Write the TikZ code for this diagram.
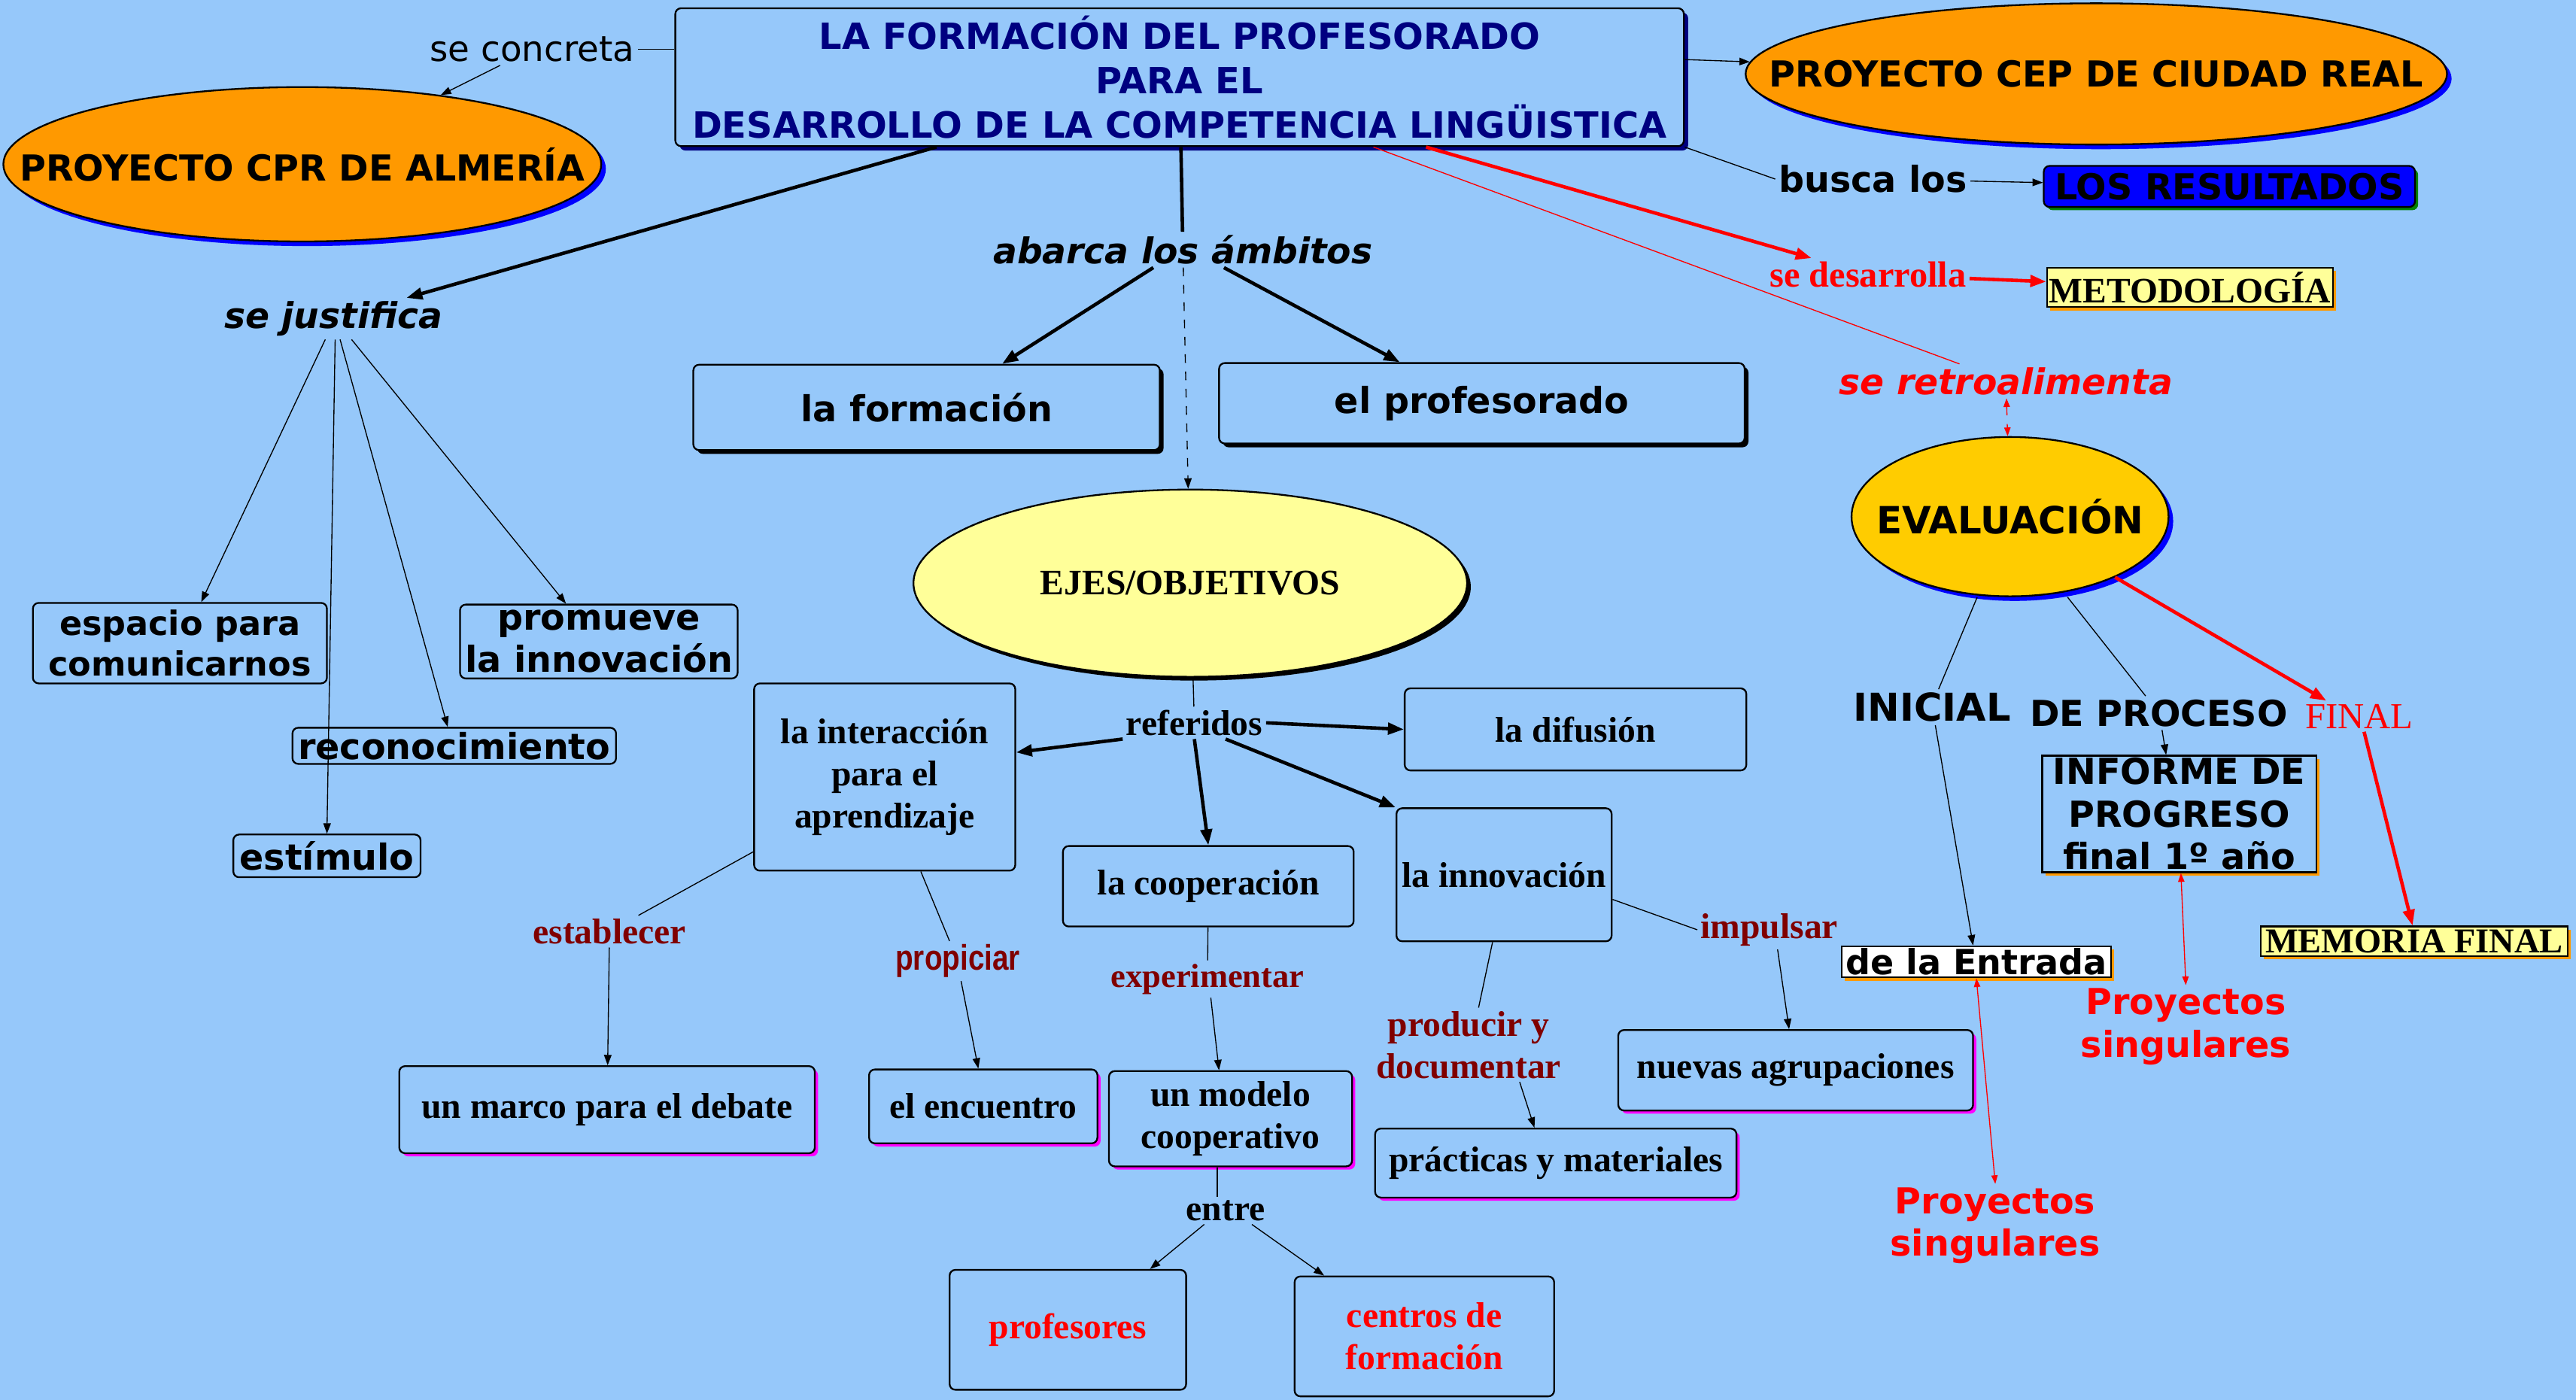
\documentclass[tikz,border=0pt]{standalone}
\usepackage{fontspec}
\setmainfont{Liberation Serif}
\newfontfamily\vsans{DejaVu Sans}
\newfontfamily\nsans{Liberation Sans}[FakeStretch=0.82]
\usetikzlibrary{positioning, arrows.meta, shapes.geometric, calc, shadows}

\definecolor{fondo}{RGB}{150,200,250}
\definecolor{marino}{RGB}{0,0,128}
\definecolor{naranja}{RGB}{255,153,0}
\definecolor{oro}{RGB}{255,204,0}
\definecolor{crema}{RGB}{255,255,153}
\definecolor{granate}{RGB}{128,0,0}
\definecolor{rojo}{RGB}{255,0,0}
\definecolor{azul}{RGB}{0,0,255}
\definecolor{verde}{RGB}{0,128,0}
\definecolor{rosa}{RGB}{255,0,255}

\begin{document}
\begin{tikzpicture}[x=0.02cm, y=-0.02cm,
  % ---- Style definitions ----
  sans/.style={font=\vsans\bfseries\fontsize{12.4}{14.6}\selectfont},
  sansit/.style={font=\vsans\bfseries\itshape\fontsize{12.3}{14.6}\selectfont},
  serif/.style={font=\bfseries\fontsize{12.4}{14.6}\selectfont},
  lbl/.style={inner sep=1pt, align=center},
  box/.style={draw, rounded corners=2pt, fill=fondo, line width=0.6pt,
    inner sep=0pt, align=center},
  sbox/.style={box, sans},
  tbox/.style={box, serif},
  ell/.style={ellipse, draw, line width=0.6pt, inner sep=0pt},
  negrosh/.style={drop shadow={shadow xshift=1.3pt, shadow yshift=-1.3pt, fill=black, opacity=1}},
  rosash/.style={drop shadow={shadow xshift=1.1pt, shadow yshift=-1.1pt, fill=rosa, opacity=1}},
  naranjash/.style={drop shadow={shadow xshift=1.1pt, shadow yshift=-1.1pt, fill=naranja, opacity=1}},
  azulsh/.style={drop shadow={shadow xshift=1.6pt, shadow yshift=-1.6pt, fill=azul, opacity=1}},
  fino/.style={line width=0.35pt},
  fle/.style={fino, -{Triangle[length=3.6pt, width=2.6pt]}},
  grueso/.style={line width=1.2pt},
  gfle/.style={grueso, -{Triangle[length=5.5pt, width=4pt]}},
  rojogrueso/.style={gfle, draw=rojo},
  rojofino/.style={fino, draw=rojo},
  rojodoble/.style={fino, draw=rojo, {Triangle[length=3pt, width=2.2pt]}-{Triangle[length=3pt, width=2.2pt]}},
]

\useasboundingbox (0,0) rectangle (1568,852);
\fill[fondo] (0,0) rectangle (1568,852);

% ---- Top: title and projects ----
\node[box, minimum width=12.28cm, minimum height=1.68cm, text=marino,
      font=\vsans\bfseries\fontsize{12.5}{15.3}\selectfont,
      drop shadow={shadow xshift=1.5pt, shadow yshift=-1.5pt, fill=marino, opacity=1}]
      (title) at (718,47) {LA FORMACIÓN DEL PROFESORADO\\PARA EL\\DESARROLLO DE LA COMPETENCIA LINGÜISTICA};

\node[ell, fill=naranja, minimum width=7.28cm, minimum height=1.88cm, azulsh,
      label={[sans]center:PROYECTO CPR DE ALMERÍA}] (cpr) at (184,100) {};
\node[ell, fill=naranja, minimum width=8.54cm, minimum height=1.72cm, azulsh,
      label={[sans]center:PROYECTO CEP DE CIUDAD REAL}] (cep) at (1276,45) {};

\node[lbl, font=\vsans\fontsize{12.2}{14}\selectfont] (conc) at (324,30) {se concreta};
\node[lbl, sans] (busca) at (1140,109) {busca los};
\node[sbox, fill=azul, minimum width=4.52cm, minimum height=0.5cm,
      drop shadow={shadow xshift=1.1pt, shadow yshift=-1.1pt, fill=verde, opacity=1}]
      (res) at (1357,113.5) {LOS RESULTADOS};
\node[lbl, text=rojo, font=\bfseries\fontsize{12.6}{15}\selectfont] (desa) at (1137,167) {se desarrolla};
\node[tbox, fill=crema, rounded corners=0pt, minimum width=3.48cm, minimum height=0.48cm,
      naranjash] (met) at (1333,175) {METODOLOGÍA};
\node[lbl, sansit, text=rojo] (retro) at (1221,232) {se retroalimenta};

% ---- Left branch ----
\node[lbl, sansit] (sj) at (203,194) {se justifica};
\node[sbox, minimum width=3.58cm, minimum height=0.98cm,
      font=\vsans\bfseries\fontsize{11.6}{14.2}\selectfont] (esp) at (109.5,391.5) {espacio para\\comunicarnos};
\node[sbox, minimum width=3.38cm, minimum height=0.9cm] (prom) at (364.5,390.5) {promueve\\la innovación};
\node[sbox, minimum width=3.94cm, minimum height=0.44cm] (rec) at (276.5,454) {reconocimiento};
\node[sbox, minimum width=2.28cm, minimum height=0.52cm] (est) at (199,521) {estímulo};

% ---- Centre ----
\node[lbl, sansit] (abarca) at (720,152) {abarca los ámbitos};
\node[sbox, minimum width=5.68cm, minimum height=1.04cm, negrosh] (form) at (564,248) {la formación};
\node[sbox, minimum width=6.4cm, minimum height=0.98cm, negrosh] (prof) at (902,245.5) {el profesorado};

\node[ell, fill=crema, minimum width=6.74cm, minimum height=2.28cm, negrosh,
      label={[serif]center:EJES/OBJETIVOS}] (ejes) at (724.5,355) {};
\node[lbl, serif] (ref) at (727,440) {referidos};

\node[tbox, minimum width=3.18cm, minimum height=2.28cm] (inter) at (538.5,473) {la interacción\\para el\\aprendizaje};
\node[tbox, minimum width=4.16cm, minimum height=1.0cm] (dif) at (959,444) {la difusión};
\node[tbox, minimum width=3.54cm, minimum height=0.98cm] (coop) at (735.5,539.5) {la cooperación};
\node[tbox, minimum width=2.62cm, minimum height=1.62cm] (innov) at (915.5,532.5) {la innovación};

\node[lbl, serif, text=granate] (estab) at (371,567) {establecer};
\node[lbl, text=granate, font=\nsans\bfseries\fontsize{12.3}{14}\selectfont] (prop) at (583,585) {propiciar};
\node[lbl, text=granate, font=\bfseries\fontsize{11.6}{14}\selectfont] (exper) at (735,596) {experimentar};
\node[lbl, serif, text=granate] (prod) at (894,636) {producir y\\documentar};
\node[lbl, serif, text=granate] (imp) at (1077,566) {impulsar};

\node[tbox, minimum width=5.06cm, minimum height=1.06cm, rosash] (marco) at (369.5,675.5) {un marco para el debate};
\node[tbox, minimum width=2.78cm, minimum height=0.9cm, rosash] (enc) at (598.5,673.5) {el encuentro};
\node[tbox, minimum width=2.96cm, minimum height=1.16cm, rosash] (mod) at (749,681) {un modelo\\cooperativo};
\node[tbox, minimum width=4.4cm, minimum height=0.84cm, rosash] (prac) at (947,708) {prácticas y materiales};
\node[tbox, minimum width=4.32cm, minimum height=0.98cm, rosash] (nuevas) at (1093,651.5) {nuevas agrupaciones};

\node[lbl, serif] (entre) at (746,737) {entre};
\node[tbox, minimum width=2.88cm, minimum height=1.46cm, text=rojo] (profs) at (650,809.5) {profesores};
\node[tbox, minimum width=3.16cm, minimum height=1.46cm, text=rojo] (centros) at (867,813.5) {centros de\\formación};

% ---- Evaluation ----
\node[ell, fill=oro, minimum width=3.86cm, minimum height=1.94cm, azulsh,
      label={[font=\vsans\bfseries\fontsize{13}{15}\selectfont]center:EVALUACIÓN}] (eval) at (1223.5,314.5) {};
\node[lbl, font=\vsans\bfseries\fontsize{13.3}{15}\selectfont] (inic) at (1176,430.5) {INICIAL};
\node[lbl, sans] (dep) at (1314,434) {DE PROCESO};
\node[lbl, text=rojo, font=\fontsize{12.7}{15}\selectfont] (fin) at (1436,436) {FINAL};
\node[sbox, fill=white, rounded corners=0pt, minimum width=3.28cm, minimum height=0.38cm,
      font=\vsans\bfseries\fontsize{12}{14}\selectfont, naranjash] (entr) at (1203,585.5) {de la Entrada};
\node[sbox, rounded corners=0pt, minimum width=3.34cm, minimum height=1.42cm,
      font=\vsans\bfseries\fontsize{12.4}{14.7}\selectfont, naranjash] (inf) at (1326.5,495.5) {INFORME DE\\PROGRESO\\final 1º año};
\node[tbox, fill=crema, rounded corners=0pt, minimum width=3.74cm, minimum height=0.36cm,
      font=\bfseries\fontsize{12.1}{14}\selectfont, naranjash] (mem) at (1469.5,573) {MEMORIA FINAL};
\node[lbl, text=rojo, font=\vsans\bfseries\fontsize{12.4}{14.7}\selectfont] (ps1) at (1214.5,746) {Proyectos\\singulares};
\node[lbl, text=rojo, font=\vsans\bfseries\fontsize{12.4}{14.7}\selectfont] (ps2) at (1330.5,625) {Proyectos\\singulares};

% ---- Connectors: top ----
\draw[fino] (conc.east) -- (conc.east -| title.west);
\draw[fle] (conc) -- (cpr);
\draw[fle] (title.2) -- (cep);
\draw[fino] (title.south east) -- (busca.west);
\draw[fle] (busca) -- (res);
\draw[rojogrueso] ($(title.south)+(150,0)$) -- (desa);
\draw[rojogrueso] (desa) -- (met);
\draw[rojofino] ($(title.south)+(118,0)$) -- (retro);
\draw[rojodoble, dashed] (retro) -- (eval);

% ---- Connectors: left ----
\draw[gfle] ($(title.south)+(-148,0)$) -- (sj);
\draw[fle] ($(sj.south)+(-5,0)$) -- ($(esp.north)+(13,0)$);
\draw[fle] ($(sj.south)+(1,0)$) -- (est.north);
\draw[fle] ($(sj.south)+(4,0)$) -- ($(rec.north)+(-4,0)$);
\draw[fle] ($(sj.south)+(11,0)$) -- ($(prom.north)+(-20,0)$);

% ---- Connectors: centre ----
\draw[grueso] (title) -- (abarca);
\draw[gfle] ($(abarca.south)+(-18,0)$) -- ($(form.north)+(46,0)$);
\draw[gfle] ($(abarca.south)+(25,0)$) -- ($(prof.north)+(-50,0)$);
\draw[fle, dashed] (abarca) -- (ejes);
\draw[fino] (ejes) -- (ref);
\draw[gfle] (ref.south west) -- ($(inter.east)+(0,-15)$);
\draw[gfle] (ref.east) -- (dif.west);
\draw[gfle] (ref.south) -- (coop.north);
\draw[gfle] ($(ref.south)+(19,0)$) -- (innov.north west);

\draw[fino] ($(inter.south west)+(0,-12)$) -- (estab);
\draw[fle] (estab) -- (marco);
\draw[fino] ($(inter.south)+(22,0)$) -- (prop);
\draw[fle] ($(prop.south)+(2,0)$) -- ($(enc.north)+(-3,0)$);
\draw[fino] (coop) -- (exper);
\draw[fle] ($(exper.south)+(2,0)$) -- ($(mod.north)+(-7,0)$);
\draw[fino] ($(mod.south)+(-8,0)$) -- ($(entre.north)+(-5,0)$);
\draw[fle] ($(entre.south)+(-13,0)$) -- ($(profs.north)+(50,0)$);
\draw[fle] ($(entre.south)+(16,0)$) -- ($(centros.north)+(-61,0)$);
\draw[fino] ($(innov.south)+(-7,0)$) -- ($(prod.north)+(6,0)$);
\draw[fle] ($(prod.south)+(31,0)$) -- ($(prac.north)+(-13,0)$);
\draw[fino] ($(innov.east)+(0,15)$) -- (imp.west);
\draw[fle] ($(imp.south)+(5,0)$) -- ($(nuevas.north)+(-4,0)$);

% ---- Connectors: evaluation ----
\draw[fino] ($(eval.south)+(-20,0)$) -- ($(inic.north)+(4,0)$);
\draw[fle] ($(inic.south)+(2,0)$) -- ($(entr.north)+(-2,0)$);
\draw[fino] ($(eval.south)+(35,0)$) -- ($(dep.north)+(-8,0)$);
\draw[fle] ($(dep.south)+(2,0)$) -- ($(inf.north)+(-8,0)$);
\draw[rojogrueso] (eval.-30) -- ($(fin.north)+(-20,0)$);
\draw[rojogrueso] ($(fin.south)+(3,0)$) -- ($(mem.north)+(-1,0)$);
\draw[rojodoble] (entr.south) -- (ps1.north);
\draw[rojodoble] ($(inf.south)+(1,0)$) -- (ps2.north);

\end{tikzpicture}
\end{document}
